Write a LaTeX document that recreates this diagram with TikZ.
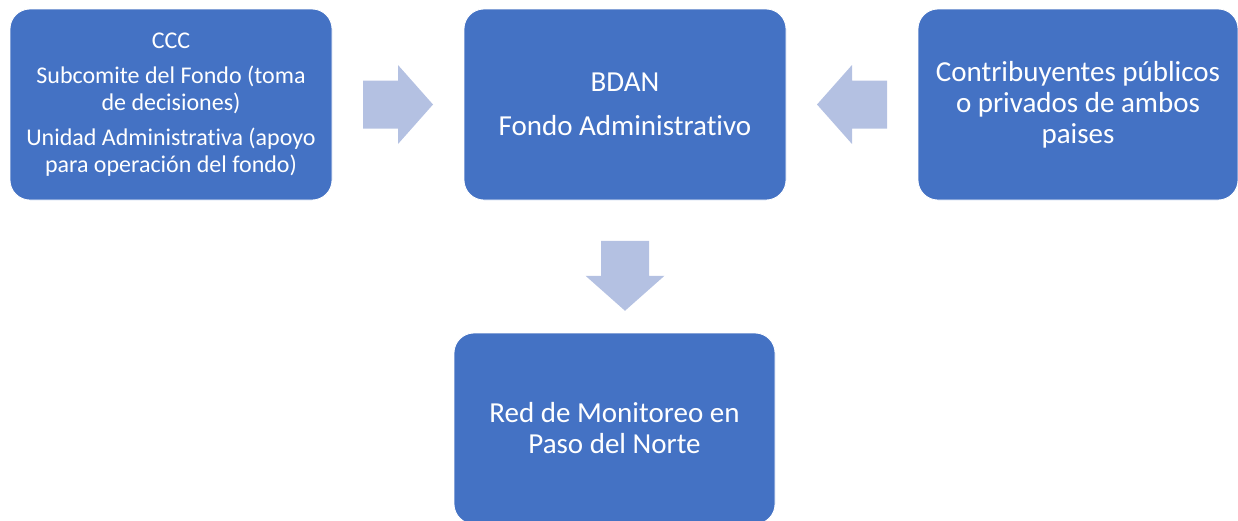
\documentclass[tikz,border=0pt]{standalone}
\usepackage{fontspec}
\setmainfont{Carlito}[Ligatures=NoCommon]
\usetikzlibrary{calc}

\definecolor{boxblue}{HTML}{4472C4}
\definecolor{arrowblue}{HTML}{B4C1E2}

\tikzset{
  box/.style={rectangle, rounded corners=20pt, fill=boxblue, draw=white,
    line width=0.8pt, text=white, minimum width=322pt, minimum height=191pt,
    align=center, inner sep=0pt, font=\fontsize{29}{31}\selectfont},
  smalltext/.style={font=\fontsize{24}{26.5}\selectfont},
  blockarrow/.pic={
    \fill[arrowblue] (-35,-24) -- (0,-24) -- (0,-39.5) -- (35,0)
      -- (0,39.5) -- (0,24) -- (-35,24) -- cycle;
  }
}

\begin{document}
\begin{tikzpicture}[x=1pt,y=-1pt]
    \useasboundingbox (0,0) rectangle (1238,520);

    % cajas
    \node[box, smalltext] (ccc) at (171,104.5)
      {CCC\\[9pt]Subcomite del Fondo (toma\\de decisiones)\\[9pt]Unidad Administrativa (apoyo\\para operación del fondo)};
    \node[box] (bdan) at (625,104.5) {BDAN\\[13pt]Fondo Administrativo};
    \node[box, minimum width=320pt] (contrib) at (1078,104.5)
      {Contribuyentes públicos\\o privados de ambos\\paises};
    \node[box, minimum width=321pt] (red) at (614.5,428.5)
      {Red de Monitoreo en\\Paso del Norte};

    % flechas
    \coordinate (a1) at ($(ccc.east)!0.5!(bdan.west)$);
    \coordinate (a2) at ($(bdan.east)!0.5!(contrib.west)$);
    \coordinate (a3) at ($(bdan.south)!0.57!(bdan.south |- red.north)$);
    \pic at (a1) {blockarrow};
    \pic[rotate=180] at (a2) {blockarrow};
    \pic[rotate=-90] at (a3) {blockarrow};
\end{tikzpicture}
\end{document}
